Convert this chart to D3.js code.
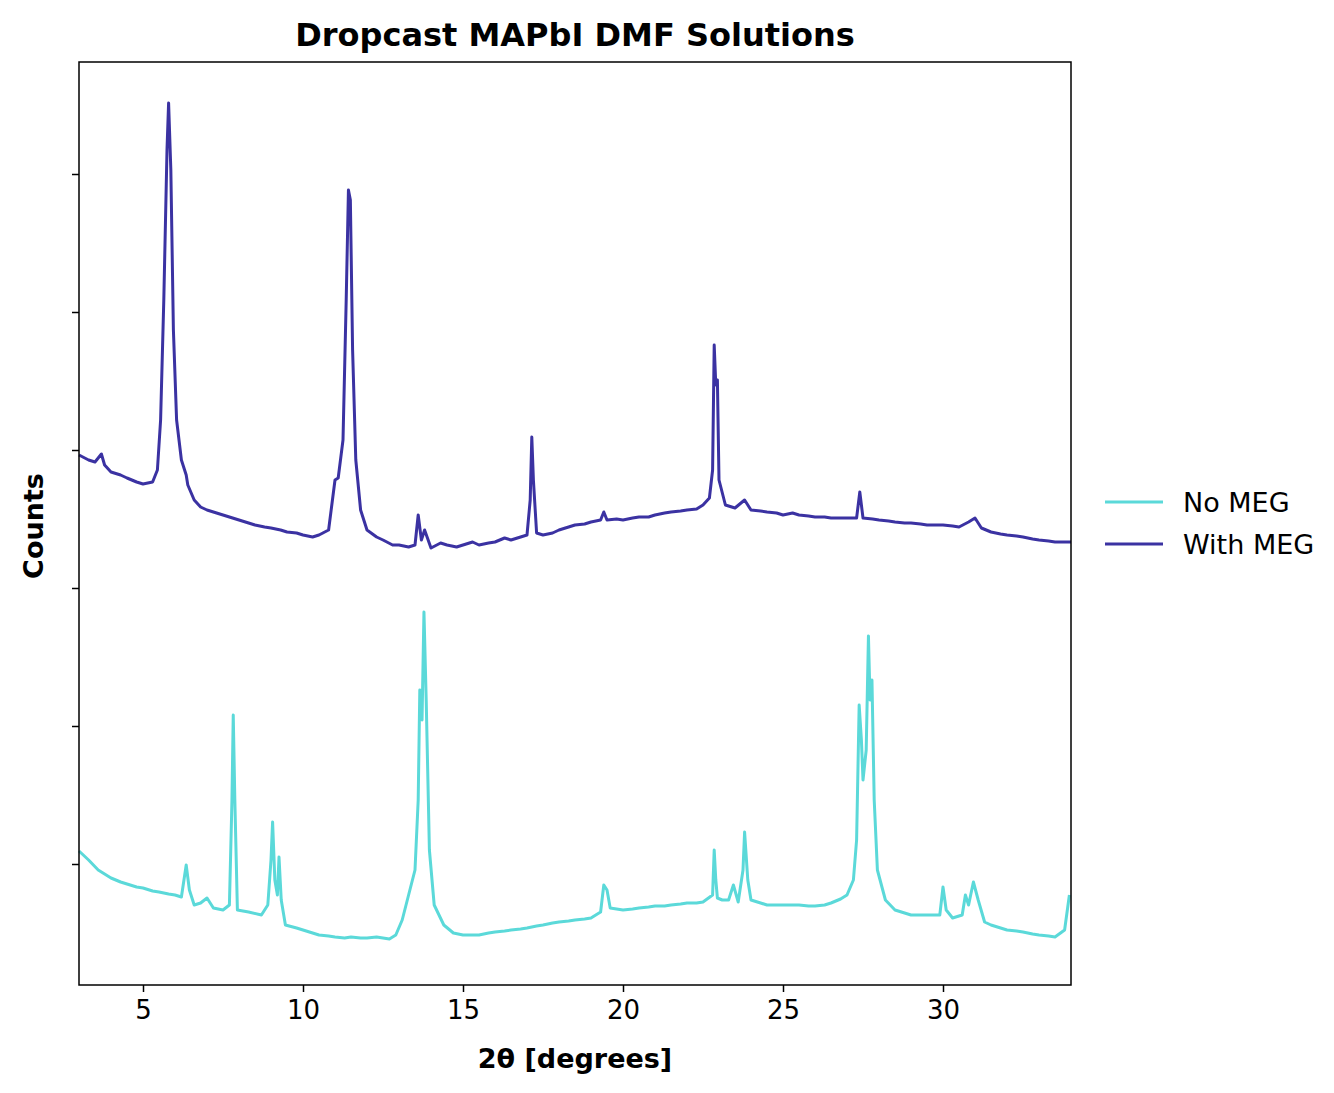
<!DOCTYPE html>
<html><head><meta charset="utf-8">
<script src="https://cdn.jsdelivr.net/npm/d3@7"></script>
<style>body{margin:0;background:#fff;font-family:"DejaVu Sans",sans-serif}</style>
</head><body><svg id="chart"></svg>
<script>
// counts are arbitrary units
const withMeg = [[3.0,530],[3.3,525],[3.5,523],[3.7,531],[3.8,520],[4.0,513],[4.3,510],[4.5,507],[4.8,503],[5.0,501],[5.3,503],[5.45,515],[5.55,565],[5.65,685],[5.75,835],[5.8,882],[5.87,815],[5.95,655],[6.05,565],[6.2,525],[6.35,510],[6.4,500],[6.6,485],[6.8,478],[7.0,475],[7.3,472],[7.5,470],[7.8,467],[8.0,465],[8.3,462],[8.5,460],[8.8,458],[9.0,457],[9.3,455],[9.5,453],[9.8,452],[10.0,450],[10.3,448],[10.5,450],[10.8,455],[11.0,505],[11.1,507],[11.25,545],[11.35,685],[11.42,795],[11.48,785],[11.55,635],[11.65,525],[11.8,475],[12.0,455],[12.3,448],[12.5,445],[12.8,440],[13.0,440],[13.3,438],[13.5,440],[13.6,470],[13.7,445],[13.8,455],[14.0,437],[14.3,442],[14.5,440],[14.8,438],[15.0,440],[15.3,443],[15.5,440],[15.8,442],[16.0,443],[16.3,447],[16.5,445],[16.8,448],[17.0,450],[17.1,485],[17.15,548],[17.2,505],[17.3,452],[17.5,450],[17.8,452],[18.0,455],[18.3,458],[18.5,460],[18.8,461],[19.0,463],[19.3,465],[19.4,473],[19.5,465],[19.8,466],[20.0,465],[20.3,467],[20.5,468],[20.8,468],[21.0,470],[21.3,472],[21.5,473],[21.8,474],[22.0,475],[22.3,476],[22.5,480],[22.7,487],[22.8,515],[22.85,640],[22.9,600],[22.95,605],[23.0,505],[23.2,480],[23.5,477],[23.8,485],[24.0,475],[24.3,474],[24.5,473],[24.8,472],[25.0,470],[25.3,472],[25.5,470],[25.8,469],[26.0,468],[26.3,468],[26.5,467],[27.0,467],[27.3,467],[27.4,493],[27.5,467],[27.8,466],[28.0,465],[28.3,464],[28.5,463],[28.8,462],[29.0,462],[29.3,461],[29.5,460],[29.8,460],[30.0,460],[30.3,459],[30.5,458],[30.8,463],[31.0,467],[31.2,457],[31.5,453],[31.8,451],[32.0,450],[32.3,449],[32.5,448],[32.8,446],[33.0,445],[33.3,444],[33.5,443],[34.0,443]];
const noMeg = [[3.0,134],[3.3,125],[3.6,115],[4.0,107],[4.3,103],[4.5,101],[4.8,98],[5.0,97],[5.3,94],[5.5,93],[5.8,91],[6.0,90],[6.2,88],[6.35,120],[6.45,95],[6.6,80],[6.8,82],[7.0,87],[7.2,77],[7.5,75],[7.7,80],[7.78,185],[7.82,270],[7.87,185],[7.95,75],[8.3,73],[8.7,70],[8.9,80],[9.0,125],[9.05,163],[9.12,105],[9.2,90],[9.25,128],[9.32,85],[9.45,60],[9.8,57],[10.0,55],[10.3,52],[10.5,50],[10.8,49],[11.0,48],[11.3,47],[11.5,48],[11.8,47],[12.0,47],[12.3,48],[12.5,47],[12.7,46],[12.9,50],[13.1,65],[13.3,90],[13.5,115],[13.6,185],[13.65,295],[13.72,265],[13.78,373],[13.85,285],[13.95,135],[14.1,80],[14.4,60],[14.7,52],[15.0,50],[15.3,50],[15.5,50],[15.8,52],[16.0,53],[16.3,54],[16.5,55],[16.8,56],[17.0,57],[17.3,59],[17.5,60],[17.8,62],[18.0,63],[18.3,64],[18.5,65],[18.8,66],[19.0,67],[19.3,73],[19.4,100],[19.5,95],[19.6,77],[19.8,76],[20.0,75],[20.3,76],[20.5,77],[20.8,78],[21.0,79],[21.3,79],[21.5,80],[21.8,81],[22.0,82],[22.3,82],[22.5,83],[22.8,90],[22.85,135],[22.9,105],[22.95,87],[23.1,85],[23.3,85],[23.45,100],[23.6,83],[23.75,115],[23.8,153],[23.9,105],[24.0,85],[24.3,82],[24.5,80],[24.8,80],[25.0,80],[25.3,80],[25.5,80],[25.8,79],[26.0,79],[26.3,80],[26.5,82],[26.8,86],[27.0,90],[27.2,105],[27.3,145],[27.38,280],[27.45,245],[27.5,205],[27.6,235],[27.67,349],[27.72,285],[27.78,305],[27.85,185],[27.95,115],[28.2,85],[28.5,75],[28.8,72],[29.0,70],[29.3,70],[29.5,70],[29.9,70],[30.0,98],[30.1,75],[30.3,67],[30.6,70],[30.7,90],[30.8,80],[30.95,103],[31.1,85],[31.3,63],[31.5,60],[31.8,57],[32.0,55],[32.3,54],[32.5,53],[32.8,51],[33.0,50],[33.3,49],[33.5,48],[33.8,55],[33.95,90]];
const xTicks = [5,10,15,20,25,30];
const yTicks = [121,259,397,535,673,811];
const seriesNames = ["No MEG","With MEG"];
const seriesColors = ["#5bd9d9","#3b32a2"];

const W = 1334, H = 1093;
const m = {left:79, right:263, top:62, bottom:108};
const svg = d3.select("#chart").attr("width", W).attr("height", H);
const x = d3.scaleLinear().domain([3,34]).range([m.left, W - m.right]);
const y = d3.scaleLinear().domain([0,923]).range([H - m.bottom, m.top]);

const line = d3.line().x(d => x(d[0])).y(d => y(d[1]));
[noMeg, withMeg].forEach((s, i) => {
    svg.append("path").attr("d", line(s)).attr("fill", "none")
        .attr("stroke", seriesColors[i]).attr("stroke-width", 3).attr("stroke-linejoin", "round");
});

const xa = svg.append("g").attr("transform", `translate(0,${H - m.bottom})`)
    .call(d3.axisBottom(x).tickValues(xTicks).tickSize(7).tickPadding(9));
const ya = svg.append("g").attr("transform", `translate(${m.left},0)`)
    .call(d3.axisLeft(y).tickValues(yTicks).tickSize(7).tickFormat(""));
[xa, ya].forEach(a => {
    a.select(".domain").remove();
    a.selectAll("line").attr("stroke", "#000").attr("stroke-width", 1.5);
    a.selectAll("text").attr("font-size", 26).attr("font-family", "DejaVu Sans").attr("fill", "#000");
});
svg.append("rect").attr("x", m.left).attr("y", m.top)
    .attr("width", W - m.left - m.right).attr("height", H - m.top - m.bottom)
    .attr("fill", "none").attr("stroke", "#000").attr("stroke-width", 1.5);

svg.append("text").attr("x", (m.left + W - m.right) / 2).attr("y", 46).attr("text-anchor", "middle")
    .attr("font-size", 32).attr("font-weight", "bold").text("Dropcast MAPbI DMF Solutions");
svg.append("text").attr("x", (m.left + W - m.right) / 2).attr("y", 1068).attr("text-anchor", "middle")
    .attr("font-size", 27).attr("font-weight", "bold").text("2θ [degrees]");
svg.append("text").attr("transform", "translate(43,526) rotate(-90)").attr("text-anchor", "middle")
    .attr("font-size", 27).attr("font-weight", "bold").text("Counts");

const lg = svg.append("g");
seriesNames.forEach((n, i) => {
    const ly = 502 + i * 42;
    lg.append("line").attr("x1", 1105).attr("x2", 1163).attr("y1", ly).attr("y2", ly)
        .attr("stroke", seriesColors[i]).attr("stroke-width", 3);
    lg.append("text").attr("x", 1183).attr("y", ly + 10).attr("font-size", 27).text(n);
});
</script></body></html>
